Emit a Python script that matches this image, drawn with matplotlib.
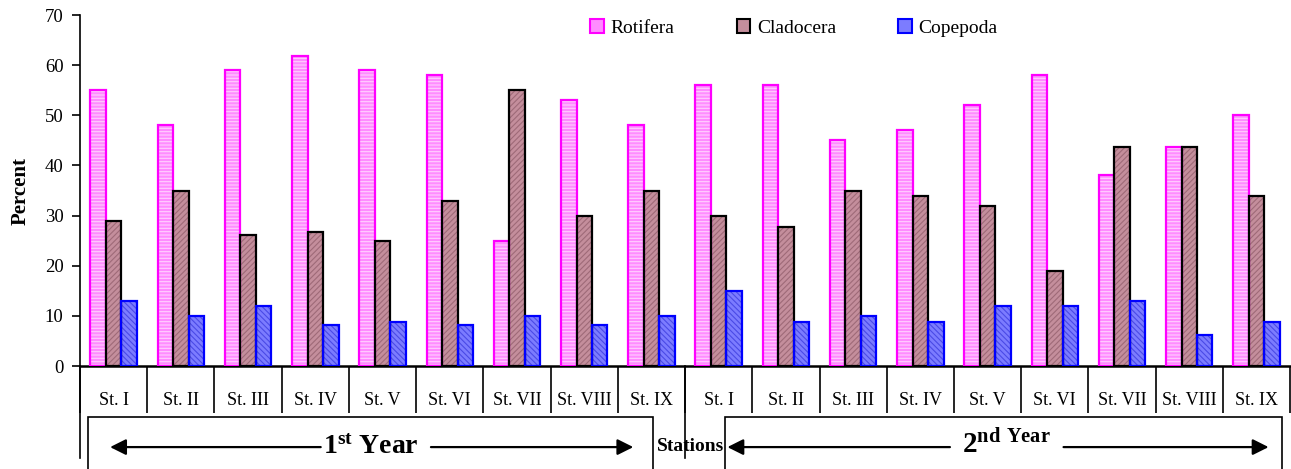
import matplotlib
matplotlib.use("Agg")
import matplotlib.pyplot as plt
import matplotlib.transforms as mtransforms
from matplotlib.patches import Rectangle, Patch
import numpy as np

plt.rcParams["font.family"] = ["Liberation Serif", "DejaVu Serif"]
plt.rcParams["mathtext.fontset"] = "custom"
plt.rcParams["mathtext.rm"] = "Liberation Serif"
plt.rcParams["mathtext.bf"] = "Liberation Serif:bold"
plt.rcParams["hatch.linewidth"] = 0.8

# ---------------------------------------------------------------
# dados: porcentagem de cada grupo por estação (2 anos)
# ---------------------------------------------------------------
ESTACOES = ["St. I", "St. II", "St. III", "St. IV", "St. V",
            "St. VI", "St. VII", "St. VIII", "St. IX"]
ROTULOS = ESTACOES + ESTACOES

ROTIFERA = [55, 48, 59, 61.8, 59, 58, 25, 53, 48,
            56, 56, 45, 47, 52, 58, 38, 43.7, 50]
CLADOCERA = [29, 35, 26.1, 26.8, 25, 33, 55, 30, 35,
             30, 27.8, 35, 34, 32, 19, 43.7, 43.7, 34]
COPEPODA = [13, 10, 12, 8.2, 8.8, 8.2, 10, 8.2, 10,
            15, 8.8, 10, 8.8, 12, 12, 13, 6.1, 8.8]

GRUPOS = ["Rotifera", "Cladocera", "Copepoda"]
VALORES = [ROTIFERA, CLADOCERA, COPEPODA]

# (preenchimento, cor da hachura, hachura, borda)
ESTILOS = [
    ("#FF8CFF", "#FFD0FF", "-----", "#FF00FF"),
    ("#C48E9C", "#9E6A78", "//////", "#000000"),
    ("#7C7CFF", "#4A4AE6", "\\\\\\\\\\\\", "#0000FF"),
]

# ---------------------------------------------------------------
fig = plt.figure(figsize=(12.91, 4.69), dpi=100)
ax = fig.add_axes([0.062, 0.2196, 0.9373, 0.7484])

n = len(ROTULOS)
x = np.arange(n) + 0.5
larg = 0.23

for k, (vals, (face, hcor, hatch, borda)) in enumerate(zip(VALORES, ESTILOS)):
    pos = x + (k - 1) * larg
    ax.bar(pos, vals, width=larg, color=face, edgecolor=hcor,
           hatch=hatch, linewidth=0, zorder=2)
    ax.bar(pos, vals, width=larg, fill=False, edgecolor=borda,
           linewidth=1.6, zorder=3)

ax.set_xlim(0, n)
ax.set_ylim(0, 70)
ax.set_yticks(range(0, 71, 10))
ax.tick_params(axis="y", direction="out", length=6, width=1.2,
               labelsize=13.5, pad=6)

# divisões entre estações (ticks longos) e rótulos no centro
ax.set_xticks(range(n + 1))
ax.set_xticklabels([""] * (n + 1))
ax.tick_params(axis="x", which="major", direction="out",
               length=34, width=1.2)
ax.set_xticks(x, minor=True)
ax.set_xticklabels(ROTULOS, minor=True, fontsize=13)
ax.tick_params(axis="x", which="minor", length=0, pad=19)

for lado in ["top", "right"]:
    ax.spines[lado].set_visible(False)
ax.spines["left"].set_linewidth(1.2)
ax.spines["bottom"].set_linewidth(1.8)

ax.set_ylabel("Percent", fontsize=15, fontweight="bold", labelpad=10)

# legenda no topo
handles = [Patch(facecolor=e[0], edgecolor=e[3], linewidth=1.5)
           for e in ESTILOS]
fig.legend(handles, GRUPOS, loc="center left",
           bbox_to_anchor=(0.4495, 0.940), ncol=3, frameon=False,
           fontsize=14, handlelength=0.7, handleheight=0.7,
           handletextpad=0.35, columnspacing=3.2, borderpad=0)

# ---------------------------------------------------------------
# anotações dos anos abaixo do eixo
# ---------------------------------------------------------------
tr = mtransforms.blended_transform_factory(ax.transData, ax.transAxes)

for xv in [0, 9]:
    ax.plot([xv, xv], [0, -0.262], color="black", lw=1.2,
            transform=tr, clip_on=False)

for x0, x1 in [(0.119, 8.52), (9.60, 17.88)]:
    ax.add_patch(Rectangle((x0, -0.5), x1 - x0, 0.355, transform=tr,
                           fill=False, edgecolor="black", lw=1.2,
                           clip_on=False))

seta = dict(arrowstyle="-|>", mutation_scale=24, lw=1.6, color="black",
            shrinkA=0, shrinkB=0)
y_seta = -0.231
for ponta, base in [(0.447, 3.58), (8.23, 5.22), (9.63, 12.94),
                    (17.68, 14.63)]:
    ax.annotate("", xy=(ponta, y_seta), xytext=(base, y_seta),
                xycoords=tr, textcoords=tr, arrowprops=seta,
                annotation_clip=False)

ax.text(4.33, -0.233, r"$\mathbf{1^{st}}$ Year", transform=tr,
        ha="center", va="center", fontsize=20, fontweight="bold")
ax.text(13.78, -0.225, r"$\mathbf{2^{nd\ Year}}$", transform=tr,
        ha="center", va="center", fontsize=21)
ax.text(9.08, -0.228, "Stations", transform=tr, ha="center",
        va="center", fontsize=14, fontweight="bold")

fig.savefig("out.png", dpi=100)
